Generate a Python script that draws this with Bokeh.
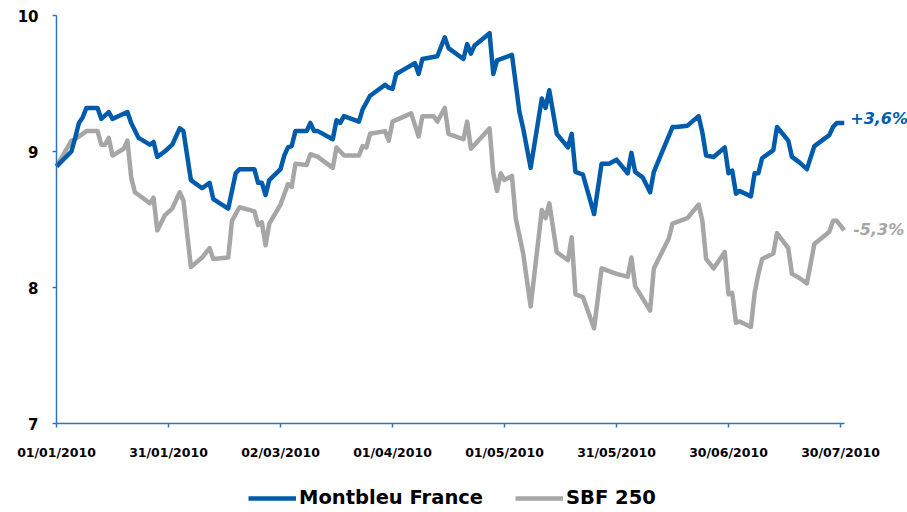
import pandas as pd
from bokeh.plotting import figure
from bokeh.models import (Range1d, FixedTicker, DatetimeTickFormatter, Legend,
                          LegendItem, ColumnDataSource)
from bokeh.core.properties import value
from bokeh.embed import file_html
from bokeh.resources import INLINE

# ---------------- data ----------------
series_names = ["Montbleu France", "SBF 250"]

montbleu_dates = [
    "2010-01-01", "2010-01-05", "2010-01-06", "2010-01-07", "2010-01-08", "2010-01-09",
    "2010-01-12", "2010-01-13", "2010-01-15", "2010-01-16", "2010-01-20", "2010-01-21",
    "2010-01-23", "2010-01-26", "2010-01-27", "2010-01-28", "2010-01-30", "2010-02-01",
    "2010-02-03", "2010-02-04", "2010-02-06", "2010-02-09", "2010-02-11", "2010-02-12",
    "2010-02-16", "2010-02-18", "2010-02-19", "2010-02-23", "2010-02-24", "2010-02-25",
    "2010-02-26", "2010-02-27", "2010-03-02", "2010-03-03", "2010-03-04", "2010-03-05",
    "2010-03-06", "2010-03-09", "2010-03-10", "2010-03-11", "2010-03-12", "2010-03-16",
    "2010-03-17", "2010-03-18", "2010-03-19", "2010-03-23", "2010-03-24", "2010-03-26",
    "2010-03-30", "2010-03-31", "2010-04-01", "2010-04-02", "2010-04-07", "2010-04-08",
    "2010-04-09", "2010-04-13", "2010-04-15", "2010-04-16", "2010-04-20", "2010-04-21",
    "2010-04-22", "2010-04-23", "2010-04-27", "2010-04-28", "2010-04-29", "2010-05-03",
    "2010-05-05", "2010-05-06", "2010-05-08", "2010-05-11", "2010-05-12", "2010-05-13",
    "2010-05-15", "2010-05-18", "2010-05-19", "2010-05-20", "2010-05-22", "2010-05-25",
    "2010-05-27", "2010-05-29", "2010-05-31", "2010-06-03", "2010-06-04", "2010-06-05",
    "2010-06-07", "2010-06-09", "2010-06-10", "2010-06-15", "2010-06-16", "2010-06-19",
    "2010-06-22", "2010-06-23", "2010-06-24", "2010-06-26", "2010-06-29", "2010-06-30",
    "2010-07-01", "2010-07-02", "2010-07-03", "2010-07-06", "2010-07-07", "2010-07-08",
    "2010-07-09", "2010-07-12", "2010-07-13", "2010-07-16", "2010-07-17", "2010-07-19",
    "2010-07-21", "2010-07-23", "2010-07-27", "2010-07-28", "2010-07-29", "2010-07-31",
]
montbleu_values = [
    8.89, 9.00, 9.10, 9.21, 9.25, 9.32,
    9.32, 9.24, 9.29, 9.24, 9.29, 9.21,
    9.10, 9.05, 9.07, 8.96, 9.00, 9.05,
    9.17, 9.15, 8.79, 8.73, 8.77, 8.65,
    8.58, 8.84, 8.87, 8.87, 8.77, 8.77,
    8.68, 8.79, 8.87, 8.97, 9.03, 9.04,
    9.15, 9.15, 9.21, 9.15, 9.15, 9.09,
    9.23, 9.21, 9.26, 9.22, 9.31, 9.41,
    9.49, 9.47, 9.46, 9.57, 9.65, 9.57,
    9.68, 9.70, 9.84, 9.76, 9.68, 9.79,
    9.72, 9.78, 9.87, 9.57, 9.67, 9.71,
    9.29, 9.17, 8.88, 9.39, 9.32, 9.45,
    9.13, 9.03, 9.13, 8.85, 8.83, 8.54,
    8.91, 8.91, 8.94, 8.84, 8.99, 8.85,
    8.81, 8.70, 8.85, 9.18, 9.18, 9.19,
    9.26, 9.14, 8.97, 8.96, 9.03, 8.84,
    8.86, 8.69, 8.71, 8.67, 8.84, 8.84,
    8.95, 9.01, 9.18, 9.08, 8.96, 8.92,
    8.87, 9.04, 9.12, 9.18, 9.21, 9.21,
]

sbf_dates = [
    "2010-01-01", "2010-01-05", "2010-01-06", "2010-01-08", "2010-01-09", "2010-01-12",
    "2010-01-13", "2010-01-14", "2010-01-15", "2010-01-16", "2010-01-19", "2010-01-20",
    "2010-01-21", "2010-01-22", "2010-01-26", "2010-01-27", "2010-01-28", "2010-01-30",
    "2010-02-01", "2010-02-03", "2010-02-04", "2010-02-06", "2010-02-09", "2010-02-11",
    "2010-02-12", "2010-02-16", "2010-02-17", "2010-02-19", "2010-02-23", "2010-02-24",
    "2010-02-25", "2010-02-26", "2010-02-27", "2010-03-02", "2010-03-04", "2010-03-05",
    "2010-03-06", "2010-03-09", "2010-03-10", "2010-03-12", "2010-03-16", "2010-03-17",
    "2010-03-19", "2010-03-23", "2010-03-24", "2010-03-25", "2010-03-26", "2010-03-30",
    "2010-03-31", "2010-04-01", "2010-04-06", "2010-04-08", "2010-04-09", "2010-04-12",
    "2010-04-13", "2010-04-15", "2010-04-16", "2010-04-20", "2010-04-21", "2010-04-22",
    "2010-04-27", "2010-04-28", "2010-04-29", "2010-04-30", "2010-05-01", "2010-05-03",
    "2010-05-04", "2010-05-06", "2010-05-08", "2010-05-11", "2010-05-12", "2010-05-13",
    "2010-05-15", "2010-05-18", "2010-05-19", "2010-05-20", "2010-05-22", "2010-05-25",
    "2010-05-27", "2010-05-31", "2010-06-03", "2010-06-04", "2010-06-05", "2010-06-07",
    "2010-06-09", "2010-06-10", "2010-06-14", "2010-06-15", "2010-06-19", "2010-06-22",
    "2010-06-23", "2010-06-24", "2010-06-26", "2010-06-29", "2010-06-30", "2010-07-01",
    "2010-07-02", "2010-07-03", "2010-07-06", "2010-07-07", "2010-07-08", "2010-07-09",
    "2010-07-12", "2010-07-13", "2010-07-16", "2010-07-17", "2010-07-19", "2010-07-21",
    "2010-07-23", "2010-07-27", "2010-07-28", "2010-07-29", "2010-07-31",
]
sbf_values = [
    8.89, 9.08, 9.09, 9.13, 9.15, 9.15,
    9.05, 9.05, 9.10, 8.97, 9.02, 9.08,
    8.81, 8.70, 8.62, 8.66, 8.42, 8.53,
    8.58, 8.70, 8.64, 8.15, 8.22, 8.29,
    8.21, 8.22, 8.49, 8.59, 8.56, 8.46,
    8.48, 8.31, 8.47, 8.61, 8.76, 8.74,
    8.91, 8.90, 8.98, 8.96, 8.88, 9.03,
    8.97, 8.97, 9.04, 9.03, 9.13, 9.15,
    9.08, 9.22, 9.28, 9.11, 9.26, 9.26,
    9.22, 9.32, 9.13, 9.09, 9.22, 9.02,
    9.17, 8.84, 8.71, 8.84, 8.79, 8.82,
    8.51, 8.25, 7.86, 8.57, 8.51, 8.62,
    8.26, 8.20, 8.37, 7.95, 7.93, 7.70,
    8.14, 8.10, 8.08, 8.22, 8.01, 7.92,
    7.83, 8.14, 8.36, 8.47, 8.51, 8.61,
    8.49, 8.21, 8.14, 8.26, 7.95, 7.96,
    7.74, 7.75, 7.71, 7.96, 8.10, 8.21,
    8.25, 8.40, 8.29, 8.10, 8.07, 8.03,
    8.32, 8.41, 8.49, 8.49, 8.42,
]

end_labels = ["+3,6%", "-5,3%"]
tick_dates = ["2010-01-01", "2010-01-31", "2010-03-02", "2010-04-01",
              "2010-05-01", "2010-05-31", "2010-06-30", "2010-07-30"]
y_ticks = [7, 8, 9, 10]

# ---------------- style ----------------
BLUE = "#005CAB"
GREY = "#A6A6A6"
AXIS = "#2F74B8"

W, H = 907, 512
AXIS_X_PX = 56     # pixel column of the time axis origin
TOP_PX = 15        # pixel row of the value-axis maximum
AXIS_Y_PX = 423    # pixel row of the value-axis minimum
px_per_day = 784 / 210.0
px_per_unit = (AXIS_Y_PX - TOP_PX) / (y_ticks[-1] - y_ticks[0])


def ms(d):
    return pd.Timestamp(d).value // 10**6


day_ms = 86400000
x0 = ms(tick_dates[0])
x_start = x0 - AXIS_X_PX / px_per_day * day_ms
x_end = x0 + (W - AXIS_X_PX) / px_per_day * day_ms
y_end = y_ticks[-1] + TOP_PX / px_per_unit
y_start = y_ticks[-1] - (H - TOP_PX) / px_per_unit

p = figure(width=W, height=H, x_axis_type="datetime", output_backend="svg",
           toolbar_location=None, x_range=Range1d(x_start, x_end),
           y_range=Range1d(y_start, y_end),
           min_border_left=0, min_border_right=0, min_border_top=0,
           min_border_bottom=0)
p.outline_line_color = None
p.xgrid.visible = False
p.ygrid.visible = False
p.background_fill_color = "white"
p.border_fill_color = "white"

src_m = ColumnDataSource(dict(x=pd.to_datetime(montbleu_dates), y=montbleu_values))
src_s = ColumnDataSource(dict(x=pd.to_datetime(sbf_dates), y=sbf_values))

r_s = p.line("x", "y", source=src_s, line_color=GREY, line_width=4.5, line_join="round")
r_m = p.line("x", "y", source=src_m, line_color=BLUE, line_width=4.5, line_join="round")

p.text(x=[pd.Timestamp(montbleu_dates[-1])], y=[montbleu_values[-1]], text=[end_labels[0]],
       text_color=BLUE, text_font=value("DejaVu Sans"), text_font_style="bold italic",
       text_font_size="16px", text_baseline="middle", text_align="left",
       x_offset=6, y_offset=-4)
p.text(x=[pd.Timestamp(sbf_dates[-1])], y=[sbf_values[-1]], text=[end_labels[1]],
       text_color=GREY, text_font=value("DejaVu Sans"), text_font_style="bold italic",
       text_font_size="16px", text_baseline="middle", text_align="left",
       x_offset=9, y_offset=-1)

# axes
xa = p.xaxis[0]
xa.fixed_location = y_ticks[0]
xa.ticker = FixedTicker(ticks=[ms(d) for d in tick_dates])
fmt = "%d/%m/%Y"
xa.formatter = DatetimeTickFormatter(milliseconds=fmt, seconds=fmt, minsec=fmt, minutes=fmt,
                                     hourmin=fmt, hours=fmt, days=fmt, months=fmt, years=fmt,
                                     strip_leading_zeros=False)
xa.bounds = (x0, ms("2010-07-31"))
ya = p.yaxis[0]
ya.fixed_location = x0
ya.ticker = FixedTicker(ticks=y_ticks)
ya.bounds = (y_ticks[0], y_ticks[-1])

for ax in (xa, ya):
    ax.axis_line_color = AXIS
    ax.axis_line_width = 1.5
    ax.major_tick_line_color = AXIS
    ax.major_tick_line_width = 1.5
    ax.major_tick_in = 0
    ax.major_tick_out = 4
    ax.minor_tick_line_color = None
    ax.major_label_text_color = "black"
    ax.major_label_text_font = "DejaVu Sans"
    ax.major_label_text_font_style = "bold"

xa.major_label_text_font_size = "12.5px"
xa.major_label_standoff = 17
ya.major_label_text_font_size = "15px"
ya.major_label_standoff = 14

legend = Legend(items=[LegendItem(label=series_names[0], renderers=[r_m]),
                       LegendItem(label=series_names[1], renderers=[r_s])],
                orientation="horizontal", location=(248, 3),
                glyph_width=48, glyph_height=20, label_standoff=3, spacing=32,
                padding=0, margin=0, border_line_color=None, background_fill_alpha=0,
                label_text_font="DejaVu Sans", label_text_font_style="bold",
                label_text_font_size="19.5px", label_text_color="black")
p.add_layout(legend)

open("out.html", "w").write(file_html(p, INLINE))
